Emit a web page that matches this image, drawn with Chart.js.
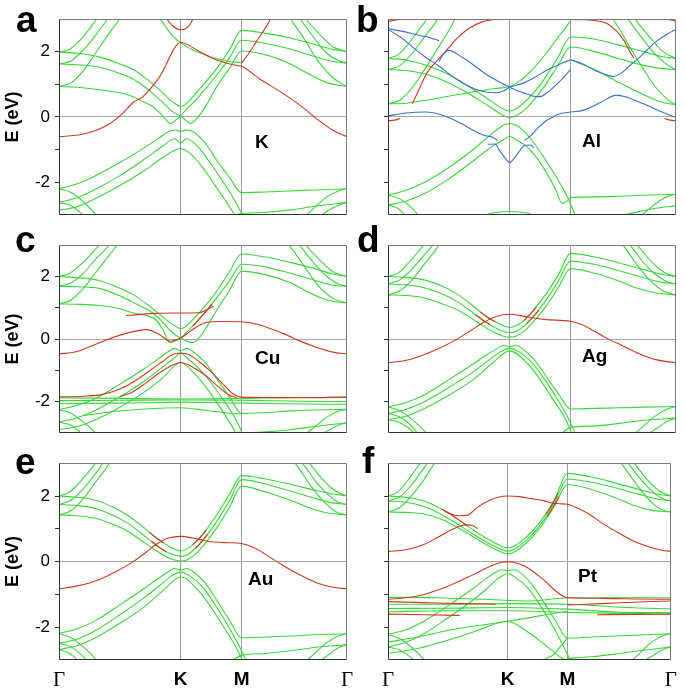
<!DOCTYPE html>
<html>
<head>
<meta charset="utf-8">
<script src="https://cdn.jsdelivr.net/npm/chart.js@4.4.1/dist/chart.umd.min.js"></script>
<style>
    html, body { margin: 0; padding: 0; background: #fff; }
    #page { position: relative; width: 685px; height: 694px; overflow: hidden; }
    .panel { position: absolute; }
    .letter { position: absolute; font: bold 37px Arial, "Liberation Sans", sans-serif; line-height: 1; color: #000; z-index: 2; }
    .metal { position: absolute; font: bold 19px Arial, "Liberation Sans", sans-serif; line-height: 1; color: #000; z-index: 2; }
</style>
</head>
<body>
<div id="page"></div>
<script>
// --- Axes ---
const kTicks = [0, 1, 1.5, 2.366];
const kTickLabels = ['Γ', 'K', 'M', 'Γ'];
const energyTicks = [-2, -1, 0, 1, 2];
const panelLetters = ['a', 'b', 'c', 'd', 'e', 'f'];
const metalNames = ['K', 'Al', 'Cu', 'Ag', 'Au', 'Pt'];

// --- Bands: each band is a list of [k, E (eV)] ---
// a: K
const grapheneA = [
    [[0,1.99],[0.15,1.95],[0.33,1.84],[0.5,1.62],[0.61,1.45],[0.7,1.22],[0.77,1.01],[0.84,0.78],[0.9,0.56],[0.95,0.42],[1.0,0.32],[1.05,0.42],[1.1,0.62],[1.2,1.05],[1.3,1.5],[1.4,2.05],[1.5,2.65],[1.7,2.56],[1.9,2.42],[2.1,2.22],[2.25,2.07],[2.366,2.0]],
    [[0,1.62],[0.15,1.6],[0.33,1.53],[0.5,1.33],[0.61,1.16],[0.7,0.93],[0.77,0.72],[0.85,0.45],[0.91,0.23],[0.96,0.1],[1.0,0.03],[1.04,-0.1],[1.08,-0.2],[1.12,-0.1],[1.2,0.3],[1.3,0.95],[1.4,1.48],[1.5,2.02],[1.7,1.9],[1.9,1.62],[2.05,1.32],[2.2,1.05],[2.366,0.93]],
    [[0,0.93],[0.15,0.91],[0.33,0.83],[0.5,0.74],[0.61,0.62],[0.7,0.45],[0.77,0.32],[0.84,0.08],[0.92,-0.2],[0.96,-0.1],[1.0,0.03],[1.05,0.25],[1.1,0.42],[1.2,0.85],[1.3,1.3],[1.4,1.8],[1.5,2.35],[1.7,2.25],[1.9,2.08],[2.1,1.85],[2.25,1.7],[2.366,1.65]],
    [[0,1.99],[0.08,2.06],[0.16,2.3],[0.24,2.65],[0.31,3.0],[0.34,3.15]],
    [[0,1.62],[0.1,1.72],[0.2,2.05],[0.3,2.5],[0.4,3.0],[0.43,3.15]],
    [[0,0.93],[0.1,1.05],[0.2,1.42],[0.3,1.95],[0.4,2.5],[0.5,3.0],[0.53,3.15]],
    [[2.0,3.15],[2.05,2.9],[2.15,2.5],[2.25,2.15],[2.366,2.0]],
    [[1.95,3.15],[2.0,2.9],[2.1,2.4],[2.2,1.95],[2.3,1.72],[2.366,1.65]],
    [[1.87,3.15],[1.93,2.85],[2.03,2.3],[2.13,1.7],[2.25,1.2],[2.366,0.93]],
    [[0.8,3.15],[0.86,2.85],[0.93,2.5],[1.0,2.27],[1.1,2.05],[1.2,1.9],[1.3,1.78],[1.4,1.7],[1.5,1.66]],
    [[0,-2.2],[0.15,-2.05],[0.3,-1.8],[0.5,-1.4],[0.7,-0.95],[0.82,-0.65],[0.9,-0.45],[0.95,-0.4],[1.0,-0.44],[1.05,-0.4],[1.1,-0.45],[1.2,-0.8],[1.3,-1.35],[1.4,-1.85],[1.5,-2.32],[1.7,-2.3],[1.9,-2.27],[2.1,-2.24],[2.366,-2.2]],
    [[0,-2.62],[0.15,-2.48],[0.3,-2.22],[0.5,-1.8],[0.7,-1.3],[0.85,-0.9],[0.95,-0.67],[1.0,-0.8],[1.05,-0.67],[1.15,-0.95],[1.25,-1.45],[1.35,-2.0],[1.45,-2.6],[1.52,-3.1]],
    [[0,-2.86],[0.15,-2.75],[0.3,-2.5],[0.5,-2.1],[0.7,-1.65],[0.85,-1.25],[1.0,-0.97],[1.1,-1.2],[1.2,-1.65],[1.3,-2.2],[1.4,-2.75],[1.46,-3.1]],
    [[1.35,-3.12],[1.45,-2.99],[1.5,-2.96],[1.7,-2.92],[1.9,-2.85],[2.1,-2.74],[2.366,-2.62]],
    [[0,-2.2],[0.1,-2.32],[0.2,-2.6],[0.28,-2.9],[0.33,-3.12]],
    [[0,-2.62],[0.1,-2.72],[0.18,-2.95],[0.22,-3.12]],
    [[2.0,-3.12],[2.08,-2.85],[2.2,-2.45],[2.3,-2.26],[2.366,-2.2]],
    [[2.12,-3.12],[2.2,-2.9],[2.3,-2.7],[2.366,-2.62]]
];
const metalA = [
    [[0,-0.61],[0.22,-0.51],[0.42,-0.2],[0.52,0.1],[0.61,0.44],[0.69,0.62],[0.83,1.25],[1.0,2.28],[1.16,1.99],[1.29,1.75],[1.43,1.6],[1.5,1.55],[1.65,1.16],[1.84,0.72],[2.0,0.3],[2.12,-0.07],[2.25,-0.41],[2.366,-0.61]],
    [[0.86,3.15],[0.93,2.8],[1.0,2.67],[1.07,2.8],[1.12,3.15]],
    [[1.5,1.65],[1.56,1.95],[1.62,2.3],[1.7,2.75],[1.76,3.15]]
];

// b: Al
const grapheneB = [
    [[0,1.79],[0.15,1.74],[0.3,1.6],[0.45,1.38],[0.6,1.08],[0.72,0.8],[0.82,0.55],[0.9,0.35],[0.96,0.22],[1.0,0.18],[1.04,0.22],[1.1,0.38],[1.2,0.75],[1.3,1.25],[1.4,1.85],[1.5,2.45],[1.7,2.38],[1.9,2.2],[2.1,2.0],[2.25,1.85],[2.366,1.79]],
    [[0,1.45],[0.15,1.42],[0.3,1.32],[0.45,1.12],[0.6,0.85],[0.72,0.58],[0.82,0.35],[0.9,0.15],[0.96,0.02],[1.0,-0.02],[1.04,0.02],[1.1,0.15],[1.2,0.52],[1.3,1.02],[1.4,1.6],[1.5,2.14],[1.7,2.0],[1.9,1.78],[2.1,1.58],[2.25,1.48],[2.366,1.45]],
    [[0,0.4],[0.15,0.42],[0.3,0.5],[0.45,0.6],[0.6,0.7],[0.75,0.8],[0.9,0.88],[1.0,0.93],[1.1,1.15],[1.2,1.5],[1.3,1.95],[1.4,2.45],[1.5,2.95],[1.53,3.15]],
    [[0,1.79],[0.08,1.9],[0.16,2.2],[0.24,2.6],[0.32,3.0],[0.34,3.15]],
    [[0,1.45],[0.1,1.58],[0.2,1.95],[0.3,2.45],[0.4,2.95],[0.43,3.15]],
    [[0,0.4],[0.1,0.52],[0.2,0.9],[0.3,1.45],[0.4,2.05],[0.5,2.65],[0.57,3.15]],
    [[2.0,3.15],[2.06,2.85],[2.16,2.4],[2.26,2.0],[2.366,1.79]],
    [[1.94,3.15],[2.0,2.85],[2.1,2.35],[2.2,1.9],[2.3,1.58],[2.366,1.45]],
    [[1.5,1.75],[1.7,1.45],[1.9,1.05],[2.1,0.68],[2.25,0.45],[2.366,0.37]],
    [[1.82,3.15],[1.9,2.7],[2.0,2.05],[2.1,1.45],[2.2,0.9],[2.3,0.52],[2.366,0.37]],
    [[0,-2.4],[0.15,-2.25],[0.3,-2.0],[0.5,-1.55],[0.7,-1.0],[0.82,-0.62],[0.9,-0.38],[0.95,-0.25],[1.0,-0.2],[1.05,-0.25],[1.1,-0.38],[1.2,-0.8],[1.3,-1.35],[1.4,-1.95],[1.48,-2.5],[1.55,-3.12]],
    [[0,-2.7],[0.15,-2.58],[0.3,-2.35],[0.5,-1.9],[0.7,-1.35],[0.82,-1.0],[0.88,-0.85],[0.94,-0.72],[1.0,-0.6],[1.06,-0.72],[1.12,-0.85],[1.2,-1.15],[1.3,-1.7],[1.38,-2.25],[1.43,-2.65],[1.47,-2.58],[1.5,-2.47],[1.7,-2.45],[1.9,-2.43],[2.1,-2.4],[2.366,-2.37]],
    [[0.7,-3.12],[0.85,-2.95],[1.0,-2.9],[1.15,-2.95],[1.3,-3.12]],
    [[1.78,-3.12],[2.0,-2.95],[2.2,-2.8],[2.366,-2.72]],
    [[0,-2.4],[0.1,-2.52],[0.2,-2.8],[0.27,-3.12]],
    [[0,-2.7],[0.08,-2.8],[0.15,-3.05],[0.17,-3.12]],
    [[2.05,-3.12],[2.12,-2.9],[2.22,-2.6],[2.3,-2.43],[2.366,-2.37]]
];
const alBlueB = [
    [[0,0.03],[0.15,0.12],[0.31,0.15],[0.45,0.05],[0.6,-0.2],[0.72,-0.45],[0.8,-0.58],[0.86,-0.62],[0.9,-0.72]],
    [[1.12,-0.72],[1.16,-0.62],[1.22,-0.38],[1.3,-0.12],[1.4,0.08],[1.5,0.15],[1.6,0.2],[1.75,0.45],[1.87,0.66],[1.95,0.62],[2.1,0.4],[2.25,0.15],[2.366,-0.02]],
    [[0.82,-0.84],[0.88,-0.83],[0.92,-1.05],[0.96,-1.25],[1.0,-1.4],[1.04,-1.25],[1.08,-1.05],[1.12,-0.88],[1.17,-0.86],[1.2,-0.95]],
    [[0,2.7],[0.12,2.62],[0.25,2.5],[0.35,2.42],[0.42,2.33]],
    [[0,2.68],[0.1,2.45],[0.2,2.15],[0.3,1.85],[0.42,1.55],[0.56,1.16],[0.66,0.95],[0.75,0.81],[0.89,0.74],[0.95,0.8],[1.0,0.91],[1.1,1.02],[1.2,1.2],[1.3,1.42],[1.4,1.6],[1.5,1.75]],
    [[0.42,1.7],[0.46,1.95],[0.5,2.04],[0.6,1.85],[0.7,1.6],[0.8,1.32],[0.9,1.1],[1.0,0.91],[1.06,0.8],[1.13,0.72],[1.22,0.62],[1.26,0.63],[1.3,0.72],[1.4,1.05],[1.5,1.45]],
    [[1.5,1.75],[1.6,1.62],[1.7,1.42],[1.8,1.28],[1.85,1.24],[1.92,1.35],[2.0,1.62],[2.06,1.8],[2.12,2.02],[2.2,2.3],[2.3,2.55],[2.366,2.68]]
];
const alRedB = [
    [[0.2,0.4],[0.25,0.8],[0.32,1.35],[0.42,1.79],[0.5,2.12],[0.56,2.38],[0.66,2.7],[0.78,2.92],[0.88,2.99]],
    [[1.45,2.99],[1.6,2.98],[1.72,2.94],[1.8,2.86],[1.88,2.62],[1.94,2.33],[1.98,2.05],[2.02,1.8]],
    [[0,-0.12],[0.05,-0.1],[0.1,-0.05]],
    [[2.27,-0.05],[2.32,-0.1],[2.366,-0.12]],
    [[0,2.93],[0.07,2.97],[0.15,3.0]],
    [[2.25,3.0],[2.32,2.97],[2.366,2.93]]
];

// c: Cu
const grapheneC = [
    [[0,2.0],[0.15,1.96],[0.33,1.87],[0.5,1.62],[0.61,1.42],[0.77,0.97],[0.88,0.62],[0.95,0.43],[1.0,0.33],[1.05,0.43],[1.1,0.62],[1.2,1.05],[1.3,1.55],[1.4,2.15],[1.5,2.72],[1.7,2.62],[1.9,2.45],[2.1,2.25],[2.25,2.08],[2.366,2.0]],
    [[0,1.69],[0.15,1.67],[0.33,1.62],[0.5,1.38],[0.61,1.17],[0.77,0.83],[0.85,0.55],[0.91,0.28],[0.96,0.12],[1.0,0.03],[1.04,-0.05],[1.09,-0.12],[1.13,-0.05],[1.2,0.3],[1.3,0.95],[1.4,1.55],[1.5,2.17],[1.7,2.05],[1.9,1.8],[2.05,1.5],[2.2,1.25],[2.366,1.15]],
    [[0,1.12],[0.15,1.11],[0.33,1.07],[0.5,0.97],[0.61,0.83],[0.72,0.75],[0.8,0.6],[0.86,0.25],[0.91,-0.12],[0.96,-0.05],[1.0,0.03],[1.05,0.22],[1.1,0.42],[1.2,0.85],[1.3,1.35],[1.4,1.85],[1.5,2.39],[1.7,2.3],[1.9,2.1],[2.1,1.88],[2.25,1.72],[2.366,1.69]],
    [[0,2.0],[0.08,2.08],[0.17,2.35],[0.26,2.7],[0.33,3.0],[0.36,3.15]],
    [[0,1.69],[0.1,1.8],[0.2,2.1],[0.3,2.55],[0.4,2.95],[0.43,3.15]],
    [[0,1.12],[0.1,1.25],[0.2,1.62],[0.3,2.12],[0.4,2.62],[0.48,3.02],[0.5,3.15]],
    [[2.0,3.15],[2.05,2.9],[2.15,2.5],[2.25,2.15],[2.366,2.0]],
    [[1.94,3.15],[2.0,2.88],[2.1,2.4],[2.2,2.0],[2.3,1.75],[2.366,1.69]],
    [[1.86,3.15],[1.92,2.85],[2.02,2.3],[2.12,1.75],[2.25,1.3],[2.366,1.15]],
    [[0,-2.26],[0.15,-2.12],[0.3,-1.9],[0.5,-1.45],[0.7,-0.95],[0.82,-0.62],[0.9,-0.4],[0.95,-0.3],[1.0,-0.38],[1.05,-0.3],[1.1,-0.4],[1.2,-0.75],[1.3,-1.3],[1.4,-1.85],[1.5,-2.38],[1.7,-2.35],[1.9,-2.3],[2.1,-2.27],[2.366,-2.25]],
    [[0,-2.66],[0.15,-2.52],[0.3,-2.28],[0.5,-1.85],[0.7,-1.35],[0.85,-0.9],[0.95,-0.6],[1.0,-0.45],[1.05,-0.6],[1.15,-0.95],[1.25,-1.4],[1.35,-1.95],[1.45,-2.55],[1.52,-3.12]],
    [[0,-2.9],[0.15,-2.8],[0.3,-2.58],[0.5,-2.18],[0.7,-1.7],[0.85,-1.25],[1.0,-0.75],[1.1,-1.05],[1.2,-1.5],[1.3,-2.05],[1.4,-2.65],[1.47,-3.12]],
    [[0,-1.88],[0.5,-1.9],[1.0,-1.92],[1.5,-1.9],[2.0,-1.87],[2.366,-1.86]],
    [[0,-1.97],[0.5,-1.96],[1.0,-1.95],[1.5,-1.96],[2.0,-1.99],[2.366,-2.0]],
    [[0,-2.07],[0.5,-2.05],[1.0,-2.02],[1.5,-2.05],[2.0,-2.08],[2.366,-2.09]],
    [[0.2,-2.45],[0.45,-2.32],[0.75,-2.23],[1.0,-2.2],[1.2,-2.28],[1.35,-2.35],[1.5,-2.4]],
    [[1.42,-3.12],[1.5,-3.02],[1.7,-2.97],[1.9,-2.9],[2.1,-2.8],[2.366,-2.68]],
    [[0,-2.26],[0.1,-2.38],[0.2,-2.65],[0.3,-3.0],[0.33,-3.12]],
    [[0,-2.66],[0.1,-2.76],[0.18,-3.0],[0.21,-3.12]],
    [[2.0,-3.12],[2.08,-2.88],[2.2,-2.5],[2.3,-2.3],[2.366,-2.25]],
    [[2.12,-3.12],[2.2,-2.95],[2.3,-2.75],[2.366,-2.68]]
];
const metalC = [
    [[0,-0.48],[0.15,-0.4],[0.33,-0.12],[0.55,0.18],[0.72,0.3],[0.83,0.13],[0.91,-0.07],[1.0,0.03],[1.09,0.28],[1.21,0.53],[1.35,0.56],[1.5,0.55],[1.65,0.45],[1.84,0.18],[2.0,-0.1],[2.12,-0.27],[2.25,-0.42],[2.366,-0.48]],
    [[0.55,0.75],[0.65,0.78],[0.79,0.82],[1.0,0.83],[1.15,0.84],[1.22,0.95],[1.27,1.05]],
    [[1.1,0.42],[1.2,0.85],[1.26,1.12]],
    [[0,-1.85],[0.2,-1.83],[0.35,-1.78],[0.5,-1.6],[0.62,-1.35],[0.75,-1.0],[0.85,-0.72],[0.93,-0.5],[1.0,-0.45],[1.07,-0.5],[1.15,-0.72],[1.25,-1.05],[1.35,-1.45],[1.43,-1.75],[1.5,-1.86],[1.7,-1.87],[2.0,-1.88],[2.366,-1.86]],
    [[0.5,-1.84],[0.6,-1.7],[0.7,-1.45],[0.8,-1.15],[0.9,-0.9],[1.0,-0.75],[1.1,-0.9],[1.2,-1.15],[1.3,-1.5],[1.4,-1.8],[1.46,-1.88]]
];

// d: Ag
const grapheneD = [
    [[0,2.0],[0.15,1.97],[0.29,1.9],[0.45,1.68],[0.56,1.46],[0.67,1.15],[0.78,0.8],[0.88,0.55],[0.95,0.42],[1.0,0.37],[1.05,0.42],[1.12,0.6],[1.2,0.95],[1.3,1.45],[1.4,2.05],[1.5,2.74],[1.7,2.62],[1.9,2.43],[2.1,2.22],[2.25,2.07],[2.366,2.0]],
    [[0,1.76],[0.15,1.73],[0.29,1.65],[0.45,1.43],[0.56,1.22],[0.67,0.92],[0.78,0.6],[0.88,0.36],[0.95,0.24],[1.0,0.2],[1.05,0.24],[1.12,0.42],[1.2,0.75],[1.3,1.25],[1.4,1.85],[1.5,2.49],[1.7,2.38],[1.9,2.18],[2.1,1.96],[2.25,1.81],[2.366,1.76]],
    [[0,1.41],[0.15,1.39],[0.29,1.32],[0.45,1.12],[0.56,0.95],[0.67,0.7],[0.78,0.42],[0.88,0.2],[0.95,0.09],[1.0,0.06],[1.05,0.09],[1.12,0.25],[1.2,0.58],[1.3,1.05],[1.4,1.65],[1.5,2.25],[1.7,2.1],[1.9,1.85],[2.05,1.62],[2.2,1.47],[2.366,1.41]],
    [[0,2.0],[0.08,2.1],[0.16,2.4],[0.24,2.75],[0.3,3.05],[0.32,3.15]],
    [[0,1.76],[0.1,1.9],[0.2,2.25],[0.3,2.7],[0.38,3.05],[0.4,3.15]],
    [[0,1.41],[0.1,1.55],[0.2,1.9],[0.3,2.4],[0.4,2.9],[0.44,3.15]],
    [[2.02,3.15],[2.08,2.85],[2.17,2.45],[2.27,2.13],[2.366,2.0]],
    [[1.96,3.15],[2.02,2.85],[2.12,2.35],[2.22,2.0],[2.3,1.82],[2.366,1.76]],
    [[1.9,3.15],[1.96,2.85],[2.06,2.3],[2.16,1.85],[2.27,1.52],[2.366,1.41]],
    [[0,-2.17],[0.15,-2.03],[0.3,-1.78],[0.5,-1.3],[0.7,-0.8],[0.82,-0.48],[0.9,-0.3],[0.95,-0.2],[1.0,-0.25],[1.05,-0.2],[1.1,-0.3],[1.2,-0.65],[1.3,-1.2],[1.4,-1.75],[1.5,-2.24],[1.7,-2.22],[1.9,-2.2],[2.1,-2.18],[2.366,-2.16]],
    [[0,-2.38],[0.15,-2.25],[0.3,-2.0],[0.5,-1.55],[0.7,-1.05],[0.82,-0.7],[0.92,-0.42],[1.0,-0.3],[1.08,-0.42],[1.18,-0.75],[1.28,-1.25],[1.38,-1.85],[1.47,-2.45],[1.55,-3.12]],
    [[0,-2.58],[0.15,-2.46],[0.3,-2.22],[0.5,-1.8],[0.7,-1.3],[0.85,-0.8],[1.0,-0.38],[1.15,-0.8],[1.25,-1.3],[1.35,-1.9],[1.45,-2.5],[1.52,-3.12]],
    [[1.38,-3.12],[1.45,-2.95],[1.5,-2.83],[1.7,-2.78],[1.9,-2.7],[2.1,-2.6],[2.366,-2.53]],
    [[0,-2.17],[0.1,-2.3],[0.2,-2.58],[0.3,-2.95],[0.34,-3.12]],
    [[0,-2.38],[0.1,-2.5],[0.2,-2.8],[0.26,-3.12]],
    [[0,-2.58],[0.1,-2.68],[0.2,-2.95],[0.24,-3.12]],
    [[2.0,-3.12],[2.08,-2.85],[2.2,-2.45],[2.3,-2.23],[2.366,-2.16]],
    [[2.1,-3.12],[2.2,-2.88],[2.3,-2.62],[2.366,-2.53]]
];
const metalD = [
    [[0,-0.76],[0.15,-0.68],[0.29,-0.51],[0.43,-0.28],[0.56,-0.02],[0.68,0.27],[0.78,0.52],[0.89,0.72],[1.0,0.79],[1.13,0.72],[1.3,0.62],[1.5,0.57],[1.6,0.45],[1.68,0.28],[1.8,0.02],[1.93,-0.22],[2.07,-0.48],[2.2,-0.66],[2.366,-0.76]],
    [[0.76,0.86],[0.82,0.69],[0.88,0.55]],
    [[0.72,0.78],[0.78,0.6],[0.84,0.46]],
    [[1.12,0.6],[1.17,0.8],[1.22,1.02]],
    [[1.14,0.5],[1.19,0.7],[1.24,0.92]]
];

// e: Au
const grapheneE = [
    [[0,2.0],[0.15,1.96],[0.3,1.87],[0.45,1.65],[0.56,1.42],[0.67,1.12],[0.78,0.78],[0.88,0.52],[0.95,0.38],[1.0,0.32],[1.05,0.38],[1.12,0.58],[1.2,0.92],[1.3,1.45],[1.4,2.05],[1.5,2.62],[1.7,2.52],[1.9,2.36],[2.1,2.18],[2.25,2.06],[2.366,2.0]],
    [[0,1.74],[0.15,1.71],[0.3,1.62],[0.45,1.4],[0.56,1.18],[0.67,0.88],[0.78,0.55],[0.88,0.3],[0.95,0.2],[1.0,0.16],[1.05,0.2],[1.12,0.4],[1.2,0.73],[1.3,1.25],[1.4,1.85],[1.5,2.5],[1.7,2.36],[1.9,2.15],[2.1,1.93],[2.25,1.79],[2.366,1.74]],
    [[0,1.42],[0.15,1.4],[0.3,1.32],[0.45,1.12],[0.56,0.93],[0.67,0.66],[0.78,0.38],[0.88,0.15],[0.95,0.05],[1.0,0.02],[1.05,0.05],[1.12,0.22],[1.2,0.55],[1.3,1.05],[1.4,1.65],[1.5,2.3],[1.7,2.12],[1.9,1.87],[2.05,1.65],[2.2,1.49],[2.366,1.42]],
    [[0,2.0],[0.08,2.1],[0.16,2.38],[0.24,2.72],[0.31,3.05],[0.33,3.15]],
    [[0,1.74],[0.1,1.88],[0.2,2.22],[0.3,2.68],[0.37,3.05],[0.39,3.15]],
    [[0,1.42],[0.1,1.56],[0.2,1.92],[0.3,2.42],[0.4,2.92],[0.43,3.15]],
    [[2.03,3.15],[2.09,2.85],[2.18,2.45],[2.27,2.15],[2.366,2.0]],
    [[1.97,3.15],[2.03,2.85],[2.13,2.35],[2.23,1.98],[2.3,1.8],[2.366,1.74]],
    [[1.91,3.15],[1.97,2.85],[2.07,2.3],[2.17,1.85],[2.27,1.53],[2.366,1.42]],
    [[0,-2.19],[0.15,-2.05],[0.3,-1.8],[0.5,-1.32],[0.7,-0.82],[0.82,-0.5],[0.9,-0.3],[0.95,-0.21],[1.0,-0.26],[1.05,-0.21],[1.1,-0.3],[1.2,-0.65],[1.3,-1.2],[1.4,-1.78],[1.5,-2.32],[1.7,-2.3],[1.9,-2.27],[2.1,-2.23],[2.366,-2.2]],
    [[0,-2.49],[0.15,-2.36],[0.3,-2.1],[0.5,-1.62],[0.7,-1.1],[0.82,-0.75],[0.92,-0.45],[1.0,-0.32],[1.08,-0.45],[1.18,-0.78],[1.28,-1.3],[1.38,-1.9],[1.47,-2.5],[1.55,-3.12]],
    [[0,-2.68],[0.15,-2.56],[0.3,-2.32],[0.5,-1.88],[0.7,-1.38],[0.85,-0.9],[1.0,-0.47],[1.15,-0.9],[1.25,-1.4],[1.35,-1.98],[1.45,-2.58],[1.52,-3.12]],
    [[1.38,-3.12],[1.45,-2.95],[1.5,-2.86],[1.7,-2.8],[1.9,-2.72],[2.1,-2.62],[2.366,-2.53]],
    [[0,-2.19],[0.1,-2.32],[0.2,-2.6],[0.3,-2.97],[0.33,-3.12]],
    [[0,-2.49],[0.1,-2.6],[0.2,-2.9],[0.25,-3.12]],
    [[0,-2.68],[0.08,-2.78],[0.15,-3.0],[0.18,-3.12]],
    [[2.0,-3.12],[2.08,-2.87],[2.2,-2.47],[2.3,-2.26],[2.366,-2.2]],
    [[2.1,-3.12],[2.2,-2.88],[2.3,-2.62],[2.366,-2.53]]
];
const metalE = [
    [[0,-0.83],[0.15,-0.74],[0.33,-0.55],[0.47,-0.3],[0.61,0.0],[0.72,0.3],[0.8,0.53],[0.9,0.72],[1.0,0.77],[1.1,0.72],[1.21,0.63],[1.35,0.58],[1.5,0.55],[1.6,0.43],[1.79,0.0],[1.95,-0.35],[2.12,-0.65],[2.25,-0.78],[2.366,-0.83]],
    [[0.74,0.9],[0.8,0.72],[0.86,0.57]],
    [[0.76,0.62],[0.82,0.44],[0.88,0.3]],
    [[1.1,0.52],[1.16,0.74],[1.21,0.97]],
    [[1.12,0.4],[1.17,0.6],[1.22,0.83]]
];

// f: Pt
const grapheneF = [
    [[0,2.0],[0.15,1.96],[0.3,1.85],[0.45,1.6],[0.6,1.25],[0.72,0.95],[0.82,0.72],[0.9,0.56],[0.96,0.45],[1.0,0.42],[1.04,0.45],[1.1,0.58],[1.2,0.9],[1.3,1.35],[1.4,1.95],[1.5,2.69],[1.7,2.58],[1.9,2.4],[2.1,2.2],[2.25,2.06],[2.366,2.0]],
    [[0,1.85],[0.15,1.81],[0.3,1.68],[0.45,1.43],[0.6,1.1],[0.72,0.82],[0.82,0.6],[0.9,0.45],[0.96,0.35],[1.0,0.32],[1.04,0.35],[1.1,0.48],[1.2,0.8],[1.3,1.25],[1.4,1.85],[1.5,2.52],[1.7,2.42],[1.9,2.25],[2.1,2.05],[2.25,1.91],[2.366,1.85]],
    [[0,1.51],[0.15,1.5],[0.3,1.45],[0.45,1.28],[0.6,1.0],[0.72,0.74],[0.82,0.52],[0.9,0.37],[0.96,0.27],[1.0,0.24],[1.04,0.27],[1.1,0.4],[1.2,0.72],[1.3,1.17],[1.4,1.75],[1.5,2.35],[1.7,2.2],[1.9,1.95],[2.05,1.72],[2.2,1.57],[2.366,1.51]],
    [[0,2.0],[0.08,2.12],[0.16,2.45],[0.23,2.8],[0.28,3.05],[0.3,3.15]],
    [[0,1.85],[0.1,1.98],[0.2,2.35],[0.28,2.75],[0.35,3.1],[0.36,3.15]],
    [[0,1.51],[0.1,1.65],[0.2,2.02],[0.3,2.5],[0.38,2.95],[0.42,3.15]],
    [[2.03,3.15],[2.09,2.85],[2.18,2.45],[2.27,2.15],[2.366,2.0]],
    [[1.98,3.15],[2.04,2.85],[2.14,2.4],[2.24,2.05],[2.31,1.9],[2.366,1.85]],
    [[1.92,3.15],[1.98,2.85],[2.08,2.35],[2.18,1.9],[2.28,1.6],[2.366,1.51]],
    [[0,-2.22],[0.15,-2.08],[0.3,-1.82],[0.5,-1.35],[0.7,-0.85],[0.82,-0.52],[0.9,-0.32],[0.95,-0.25],[1.0,-0.28],[1.05,-0.25],[1.1,-0.32],[1.2,-0.68],[1.3,-1.22],[1.4,-1.8],[1.5,-2.33],[1.7,-2.3],[1.9,-2.27],[2.1,-2.24],[2.366,-2.2]],
    [[0,-2.6],[0.15,-2.46],[0.3,-2.2],[0.5,-1.72],[0.7,-1.2],[0.82,-0.85],[0.92,-0.52],[1.0,-0.37],[1.08,-0.52],[1.18,-0.85],[1.28,-1.38],[1.38,-1.98],[1.47,-2.6],[1.54,-3.12]],
    [[0,-2.45],[0.25,-2.3],[0.5,-2.1],[0.75,-1.95],[1.0,-1.82],[1.2,-1.7],[1.35,-1.6],[1.5,-1.52]],
    [[0,-2.8],[0.25,-2.65],[0.5,-2.4],[0.75,-2.1],[1.0,-1.82],[1.15,-2.1],[1.3,-2.5],[1.42,-2.85],[1.5,-3.05]],
    [[1.25,-3.12],[1.32,-2.95],[1.38,-2.85],[1.44,-2.6],[1.5,-2.33]],
    [[1.5,-2.95],[1.7,-2.9],[1.9,-2.82],[2.1,-2.72],[2.366,-2.6]],
    [[0,-2.22],[0.1,-2.35],[0.2,-2.62],[0.3,-2.98],[0.33,-3.12]],
    [[0,-2.6],[0.1,-2.7],[0.2,-2.95],[0.24,-3.12]],
    [[2.0,-3.12],[2.08,-2.88],[2.2,-2.47],[2.3,-2.26],[2.366,-2.2]],
    [[2.1,-3.12],[2.2,-2.9],[2.3,-2.68],[2.366,-2.6]],
    [[0,-1.09],[0.4,-1.1],[0.8,-1.15],[1.2,-1.2],[1.5,-1.1],[2.0,-1.1],[2.366,-1.1]],
    [[0,-1.3],[0.5,-1.3],[1.0,-1.28],[1.5,-1.3],[2.0,-1.4],[2.366,-1.44]],
    [[0,-1.43],[0.5,-1.42],[1.0,-1.4],[1.5,-1.45],[2.0,-1.55],[2.366,-1.55]],
    [[0,-1.53],[0.5,-1.5],[1.0,-1.5],[1.5,-1.55],[2.0,-1.58],[2.366,-1.6]]
];
const metalF = [
    [[0,0.31],[0.15,0.36],[0.3,0.52],[0.42,0.75],[0.53,0.97],[0.6,1.08],[0.66,1.12],[0.72,1.08],[0.75,1.0]],
    [[0.45,1.6],[0.52,1.46],[0.6,1.4],[0.66,1.41],[0.75,1.66],[0.85,1.87],[0.93,1.97],[1.0,2.0],[1.1,1.98],[1.2,1.92],[1.3,1.86],[1.38,1.78],[1.45,1.76],[1.5,1.75],[1.6,1.6],[1.68,1.45],[1.8,1.15],[1.93,0.87],[2.07,0.6],[2.2,0.43],[2.3,0.34],[2.366,0.31]],
    [[0.45,1.6],[0.53,1.43],[0.6,1.25],[0.66,1.1]],
    [[1.32,1.45],[1.37,1.72],[1.42,2.08]],
    [[1.33,1.38],[1.38,1.65],[1.43,1.98]],
    [[0,-1.15],[0.25,-1.05],[0.5,-0.75],[0.7,-0.42],[0.85,-0.15],[0.95,-0.02],[1.0,0.0],[1.05,-0.02],[1.15,-0.15],[1.3,-0.55],[1.42,-0.95],[1.5,-1.1],[1.8,-1.12],[2.1,-1.14],[2.366,-1.15]],
    [[0,-1.22],[0.3,-1.25],[0.6,-1.28],[0.9,-1.3]],
    [[1.5,-1.32],[1.8,-1.28],[2.1,-1.23],[2.366,-1.2]],
    [[0,-1.6],[0.3,-1.62],[0.6,-1.64]],
    [[1.75,-1.62],[2.05,-1.61],[2.366,-1.6]]
];

// --- Panels ---
const panelBands = [
    [{ bands: grapheneA, kind: 'graphene' }, { bands: metalA, kind: 'metal' }],
    [{ bands: grapheneB, kind: 'graphene' }, { bands: alBlueB, kind: 'al' }, { bands: alRedB, kind: 'metal' }],
    [{ bands: grapheneC, kind: 'graphene' }, { bands: metalC, kind: 'metal' }],
    [{ bands: grapheneD, kind: 'graphene' }, { bands: metalD, kind: 'metal' }],
    [{ bands: grapheneE, kind: 'graphene' }, { bands: metalE, kind: 'metal' }],
    [{ bands: grapheneF, kind: 'graphene' }, { bands: metalF, kind: 'metal' }]
];

const bandColors = { graphene: '#36d936', metal: '#d2381f', al: '#3a73c9' };
const SANS = 'Arial, "Liberation Sans", sans-serif';
const SERIF = '"Times New Roman", "Liberation Serif", serif';

// layout (pixels)
const cols = [
    { left: 0, width: 365, axisW: 59, padRight: 18, showLabels: true },
    { left: 370, width: 315, axisW: 18, padRight: 9, showLabels: false }
];
const rows = [
    { top: 0, height: 230, padTop: 19, axisH: 8, bottom: false },
    { top: 230, height: 218, padTop: 8, axisH: 7, bottom: false },
    { top: 448, height: 246, padTop: 8, axisH: 34, bottom: true }
];
const letterPos = [[16, 1], [356, 1], [15, 221], [357, 221], [15, 443], [362, 442]];
const metalPos = [[255, 132], [582, 131], [255, 348], [582, 346], [248, 569], [578, 566]];

const framePlugin = {
    id: 'frame',
    afterDatasetsDraw(chart) {
        const { ctx, chartArea: a } = chart;
        const l = Math.round(a.left) + 0.5, r = Math.round(a.right) - 0.5;
        const t = Math.round(a.top) + 0.5, b = Math.round(a.bottom) - 0.5;
        ctx.save();
        ctx.lineWidth = 1;
        ctx.strokeStyle = '#7a7a7a';
        ctx.beginPath();
        ctx.moveTo(l, t); ctx.lineTo(r, t); ctx.lineTo(r, b);
        ctx.stroke();
        ctx.strokeStyle = '#333';
        ctx.beginPath();
        ctx.moveTo(l, t); ctx.lineTo(l, b); ctx.lineTo(r, b);
        ctx.stroke();
        ctx.restore();
    }
};

const page = document.getElementById('page');

panelBands.forEach((sets, i) => {
    const col = cols[i % 2];
    const row = rows[Math.floor(i / 2)];

    const holder = document.createElement('div');
    holder.className = 'panel';
    holder.style.left = col.left + 'px';
    holder.style.top = row.top + 'px';
    const canvas = document.createElement('canvas');
    canvas.width = col.width;
    canvas.height = row.height;
    canvas.style.width = col.width + 'px';
    canvas.style.height = row.height + 'px';
    holder.appendChild(canvas);
    page.appendChild(holder);

    const datasets = [];
    sets.forEach(set => {
        set.bands.forEach(band => {
            datasets.push({
                data: band.map(p => ({ x: p[0], y: p[1] })),
                showLine: true,
                borderColor: bandColors[set.kind],
                borderWidth: 1.1,
                pointRadius: 0,
                fill: false,
                cubicInterpolationMode: 'monotone',
                order: set.kind === 'graphene' ? 1 : 0
            });
        });
    });

    new Chart(canvas.getContext('2d'), {
        type: 'scatter',
        data: { datasets: datasets },
        plugins: [framePlugin],
        options: {
            responsive: false,
            animation: false,
            events: [],
            layout: { padding: { top: row.padTop, right: col.padRight, left: 0, bottom: 0 } },
            plugins: { legend: { display: false }, tooltip: { enabled: false } },
            scales: {
                x: {
                    type: 'linear',
                    min: 0,
                    max: kTicks[kTicks.length - 1],
                    afterBuildTicks: s => { s.ticks = kTicks.map(v => ({ value: v })); },
                    afterFit: s => { s.height = row.axisH; },
                    border: { display: false },
                    grid: {
                        drawTicks: false,
                        color: c => (c.tick && (c.tick.value === 1 || c.tick.value === 1.5)) ? '#9c9c9c' : 'rgba(0,0,0,0)',
                        lineWidth: 1
                    },
                    ticks: {
                        display: row.bottom,
                        autoSkip: false,
                        maxRotation: 0,
                        padding: 8,
                        color: '#000',
                        callback: (v, idx) => kTickLabels[idx],
                        font: c => kTickLabels[c.index] === 'Γ'
                            ? { family: SERIF, size: 21, weight: 'normal' }
                            : { family: SANS, size: 19, weight: 'bold' }
                    }
                },
                y: {
                    min: -3,
                    max: 3,
                    afterBuildTicks: s => { s.ticks = energyTicks.map(v => ({ value: v })); },
                    afterFit: s => { s.width = col.axisW; },
                    border: { display: false },
                    grid: {
                        color: c => (c.tick && c.tick.value === 0) ? '#a8a8a8' : 'rgba(0,0,0,0)',
                        tickColor: '#333',
                        tickLength: 4,
                        lineWidth: 1
                    },
                    title: {
                        display: col.showLabels,
                        text: 'E (eV)',
                        color: '#000',
                        font: { family: SANS, size: 18, weight: 'bold' },
                        padding: { top: 2, bottom: 0 }
                    },
                    ticks: {
                        padding: 5,
                        color: '#000',
                        font: { family: SANS, size: 17 },
                        callback: v => (col.showLabels && v % 2 === 0) ? String(v) : ''
                    }
                }
            }
        }
    });

    const letter = document.createElement('div');
    letter.className = 'letter';
    letter.textContent = panelLetters[i];
    letter.style.left = letterPos[i][0] + 'px';
    letter.style.top = letterPos[i][1] + 'px';
    page.appendChild(letter);

    const metal = document.createElement('div');
    metal.className = 'metal';
    metal.textContent = metalNames[i];
    metal.style.left = metalPos[i][0] + 'px';
    metal.style.top = metalPos[i][1] + 'px';
    page.appendChild(metal);
});
</script>
</body>
</html>
